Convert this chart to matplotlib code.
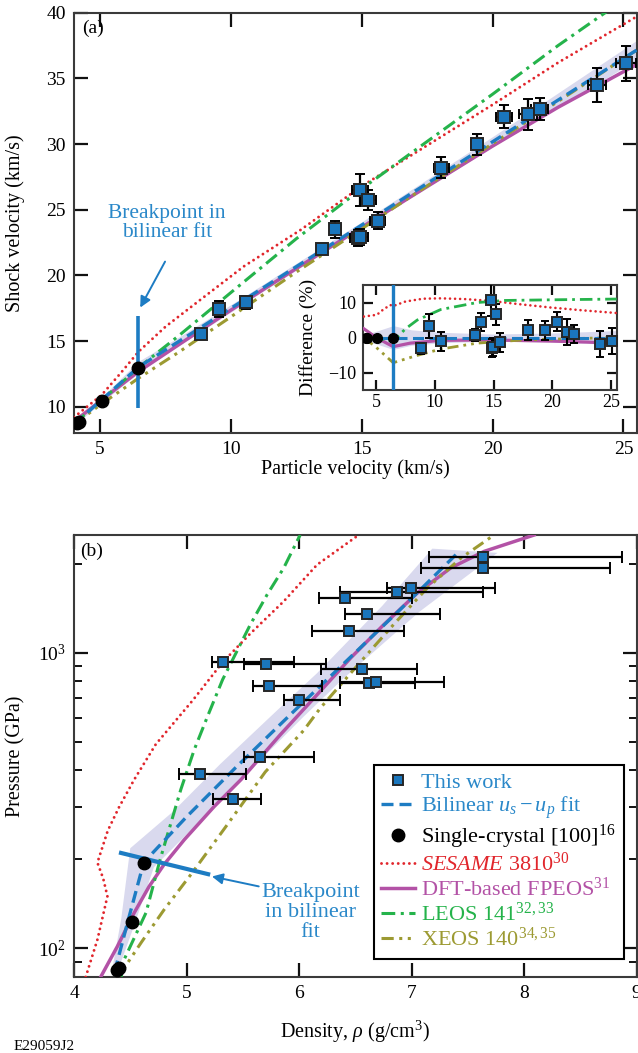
import numpy as np
import matplotlib
matplotlib.use('Agg')
import matplotlib.pyplot as plt
from matplotlib.lines import Line2D
from matplotlib.ticker import LogLocator, NullFormatter

plt.rcParams['font.family'] = ['Liberation Serif', 'DejaVu Serif']
plt.rcParams['mathtext.fontset'] = 'custom'
plt.rcParams['mathtext.rm'] = 'Liberation Serif'
plt.rcParams['mathtext.it'] = 'Liberation Serif:italic'
plt.rcParams['mathtext.bf'] = 'Liberation Serif:bold'

# ---------------- Panel (a) data: us vs up ----------------
up_work = [13.48, 13.99, 14.92, 15.25, 14.84, 14.94, 15.60, 18.03, 19.40, 20.44, 21.35, 21.80, 23.99, 25.11, 8.86, 9.55, 10.58]
us_work = [22.00, 23.50, 26.50, 25.74, 22.84, 22.90, 24.16, 28.20, 29.98, 32.08, 32.28, 32.67, 34.52, 36.14, 15.50, 17.43, 17.94]
up_err = [0.20, 0.22, 0.30, 0.28, 0.30, 0.30, 0.30, 0.29, 0.22, 0.30, 0.35, 0.33, 0.36, 0.38, 0.15, 0.20, 0.20]
us_err = [0.30, 0.63, 1.20, 0.76, 0.60, 0.60, 0.63, 0.79, 0.80, 0.89, 1.18, 0.83, 1.30, 1.35, 0.30, 0.63, 0.50]

up_sc = [4.13, 4.20, 5.06, 6.46]
us_sc = [8.75, 8.80, 10.43, 12.96]

up_fit = [4.0, 6.45, 25.5]
us_fit = [8.65, 13.0, 37.15]

up_band = [4.0, 5.0, 6.45, 8.0, 10.5, 15.0, 20.0, 25.5]
us_band_lo = [8.58, 10.24, 12.56, 14.64, 17.86, 23.60, 29.79, 36.41]
us_band_hi = [8.72, 10.62, 13.44, 15.30, 18.40, 24.08, 30.57, 37.89]

up_sesame = [4.0, 5.06, 5.8, 6.47, 7.5, 8.8, 10.5, 12.65, 15.0, 17.5, 20.0, 22.5, 25.5]
us_sesame = [9.2, 10.9, 12.6, 14.2, 16.1, 18.1, 20.7, 23.45, 26.8, 29.9, 33.0, 36.2, 39.7]

up_fpeos = [4.0, 5.0, 6.45, 8.0, 10.0, 12.5, 15.0, 17.5, 20.0, 22.5, 25.5]
us_fpeos = [8.87, 10.43, 12.66, 14.72, 17.36, 20.53, 23.67, 26.77, 29.85, 32.80, 36.05]

up_leos = [4.0, 5.0, 6.45, 8.0, 10.0, 12.5, 15.0, 17.5, 20.0, 22.5, 24.3, 25.5]
us_leos = [8.7, 10.4, 12.95, 15.4, 18.7, 22.8, 26.6, 30.2, 33.8, 37.5, 40.0, 41.7]

up_xeos = [4.0, 5.0, 6.45, 8.0, 10.0, 12.5, 15.0, 17.5, 20.0, 22.5, 25.5]
us_xeos = [8.65, 10.14, 12.15, 14.15, 16.85, 20.26, 23.55, 26.82, 30.03, 33.25, 37.15]

# ---------------- Inset data: difference (%) ----------------
up_diff = [8.84, 9.46, 10.54, 13.44, 13.92, 14.80, 15.20, 14.83, 14.93, 15.57, 17.90, 19.35, 20.40, 21.26, 21.82, 24.04, 25.10]
diff_work = [-3.06, 3.3, -1.1, 0.7, 4.5, 10.7, 6.7, -3.05, -2.8, -1.4, 2.2, 2.1, 4.5, 1.6, 0.94, -1.9, -1.1]
diff_err = [1.6, 3.5, 2.8, 1.6, 2.6, 4.5, 3.0, 2.6, 2.6, 2.7, 2.8, 2.7, 2.7, 3.6, 2.6, 3.7, 3.7]

up_diff_sc = [4.13, 4.20, 5.06, 6.46]
diff_sc = [0.0, 0.0, 0.0, 0.0]

up_dband = [3.95, 5.0, 6.45, 8.0, 10.5, 15.0, 20.0, 25.5]
dband_hi = [0.8, 1.8, 3.4, 2.2, 1.5, 1.0, 1.3, 2.0]
dband_lo = [-0.8, -1.8, -3.4, -2.2, -1.5, -1.0, -1.3, -2.0]

up_d_sesame = [3.95, 5.06, 5.6, 6.2, 6.45, 7.5, 9.0, 10.5, 12.5, 14.7, 17.0, 19.8, 22.5, 25.5]
d_sesame = [6.0, 6.5, 8.0, 9.3, 9.0, 10.3, 11.1, 11.2, 11.0, 10.5, 9.6, 8.6, 7.8, 7.0]
up_d_leos = [3.95, 5.0, 6.45, 7.5, 8.5, 10.5, 13.6, 16.0, 20.4, 25.5]
d_leos = [0.5, -0.3, -1.0, 2.5, 5.0, 8.0, 10.0, 10.6, 10.8, 11.0]
up_d_xeos = [3.95, 5.0, 6.45, 8.5, 10.5, 13.6, 17.5, 21.8, 25.5]
d_xeos = [0.0, -2.8, -7.2, -5.1, -3.3, -1.6, -0.7, -0.3, 0.0]
up_d_fpeos = [3.95, 5.0, 6.45, 7.9, 10.5, 14.7, 19.8, 23.0, 25.5]
d_fpeos = [2.5, 0.0, -2.6, -1.6, -0.8, -0.7, -1.0, -1.3, -1.7]

# ---------------- Panel (b) data: P vs density ----------------
rho_work = [7.638, 7.638, 6.998, 6.872, 6.409, 6.600, 6.445, 5.321, 5.707, 5.731, 5.998, 5.656, 5.122, 5.413, 6.561, 6.622, 6.687]
p_work = [2112, 1928, 1659, 1600, 1527, 1355, 1184, 927, 916, 769, 694, 443.6, 390, 320.7, 878, 790, 798]
rho_lo = [7.154, 7.081, 6.781, 6.365, 6.177, 6.412, 6.116, 5.226, 5.508, 5.591, 5.870, 5.508, 4.930, 5.238, 6.195, 6.365, 6.365]
rho_hi = [8.868, 8.760, 7.739, 7.638, 7.005, 7.255, 6.933, 5.953, 6.241, 6.200, 6.365, 6.137, 5.529, 5.665, 7.052, 7.034, 7.287]

rho_sc = [4.38, 4.40, 4.519, 4.623]
p_sc = [84.5, 86.0, 123, 195]

rho_fit = [4.36, 4.474, 4.62, 5.002, 5.434, 5.918, 6.281, 6.905, 7.427]
p_fit = [83, 121.5, 195.3, 278.9, 407.6, 614.6, 832.9, 1405.8, 2206]

band_left_rho = [4.34, 4.42, 4.50, 4.88, 5.30, 5.79, 6.16, 6.74, 7.185]
band_left_p = [85, 126, 218, 290, 420, 630, 852, 1440, 2248]
band_right_rho = [4.38, 4.53, 4.71, 5.13, 5.56, 6.03, 6.39, 7.07, 7.764]
band_right_p = [82, 118, 188, 272, 398, 602, 815, 1375, 2175]

rho_sesame = [4.104, 4.208, 4.297, 4.26, 4.208, 4.30, 4.40, 4.533, 4.727, 5.057, 5.32, 5.567, 5.864, 6.161, 6.53]
p_sesame = [80, 107, 150, 172, 195, 250, 300, 371, 490, 691, 927, 1160, 1491, 1984, 2500]

rho_fpeos = [4.237, 4.386, 4.534, 4.668, 4.80, 4.98, 5.247, 5.484, 5.834, 6.161, 6.458, 6.754, 7.052, 7.348, 7.645, 8.09]
p_fpeos = [80, 101.6, 131.7, 162, 192, 233, 302, 372, 528, 721, 959, 1244, 1592, 1934, 2200, 2500]

rho_leos = [4.42, 4.43, 4.64, 4.766, 4.861, 4.95, 5.069, 5.187, 5.321, 5.567, 5.716, 5.864, 6.01]
p_leos = [80, 89, 132, 200, 265, 345, 470, 609, 811, 1244, 1570, 1934, 2500]

rho_xeos = [4.40, 4.416, 4.60, 4.80, 5.05, 5.34, 5.70, 6.04, 6.19, 6.55, 6.84, 7.14, 7.44, 7.74]
p_xeos = [80, 82.5, 105, 135, 180, 255, 395, 545, 650, 934, 1244, 1655, 2090, 2510]

# ---------------- styles ----------------
C_SQ = '#1a76bd'
C_FIT = '#1d7cc3'
C_TXT = '#2a88c9'
C_RED = '#e1262c'
C_MAG = '#b352a6'
C_GRN = '#25b34b'
C_OLV = '#9c9a32'
C_BAND = '#d9d9ee'
C_SPINE = '#3a3a3a'

LS_DOT = (0, (0.01, 1.9))
LS_DASH = (0, (3.6, 1.8))
LS_DD = (0, (4.5, 1.8, 1.0, 1.8))
LS_DDD = (0, (4.0, 1.8, 1.0, 1.8, 1.0, 1.8))


def style_axes(ax, lab=14, length=10):
    for s in ax.spines.values():
        s.set_linewidth(1.5)
        s.set_color(C_SPINE)
    ax.tick_params(which='major', direction='in', length=length, width=1.6,
                   top=True, right=True, labelsize=lab, pad=6, color='#111111')


def model_lines(ax, data, lw=2.2):
    (xs, ys), (xf, yf), (xl, yl), (xx, yx) = data
    ax.plot(xs, ys, color=C_RED, lw=lw - 0.1, ls=LS_DOT, dash_capstyle='round', zorder=3)
    ax.plot(xf, yf, color=C_MAG, lw=lw + 0.3, ls='-', zorder=3)
    ax.plot(xl, yl, color=C_GRN, lw=lw, ls=LS_DD, zorder=3)
    ax.plot(xx, yx, color=C_OLV, lw=lw, ls=LS_DDD, zorder=3)


fig = plt.figure(figsize=(6.38, 10.53), dpi=100)

# ================= Panel (a) =================
axA = fig.add_axes([0.1160, 0.5888, 0.8817, 0.3991])
axA.fill_between(up_band, us_band_lo, us_band_hi, color=C_BAND, lw=0, zorder=1)
model_lines(axA, [(up_sesame, us_sesame), (up_fpeos, us_fpeos), (up_leos, us_leos), (up_xeos, us_xeos)])
axA.plot(up_fit, us_fit, color=C_FIT, lw=2.4, ls=LS_DASH, zorder=4)
axA.errorbar(up_work, us_work, xerr=up_err, yerr=us_err, fmt='s', ms=8, mfc=C_SQ,
             mec='#262626', mew=1.4, ecolor='black', elinewidth=1.6, capsize=3.5,
             capthick=1.6, zorder=6)
axA.plot(up_sc, us_sc, 'o', color='black', ms=9, zorder=7)
axA.plot([6.45, 6.45], [9.9, 16.9], color=C_FIT, lw=2.6, zorder=5, solid_capstyle='butt')
axA.text(7.55, 24.0, 'Breakpoint in\nbilinear fit', color=C_TXT, fontsize=15.5,
         ha='center', va='center', linespacing=1.05)
axA.annotate('', xy=(6.53, 17.55), xytext=(7.48, 21.05),
             arrowprops=dict(arrowstyle='-|>', color=C_FIT, lw=1.4, mutation_scale=16,
                             shrinkA=0, shrinkB=0))
axA.text(0.014, 0.964, '(a)', transform=axA.transAxes, fontsize=14, ha='left', va='center')
axA.set_xlim(4, 25.5)
axA.set_ylim(8, 40)
axA.set_xticks([5, 10, 15, 20, 25])
axA.set_yticks([10, 15, 20, 25, 30, 35, 40])
style_axes(axA)
axA.set_xlabel('Particle velocity (km/s)', fontsize=14.5)
axA.set_ylabel('Shock velocity (km/s)', fontsize=14.5)
axA.xaxis.set_label_coords(0.5, -0.062)
axA.yaxis.set_label_coords(-0.087, 0.5)

# ================= Inset =================
axI = fig.add_axes([0.5694, 0.6296, 0.3972, 0.0997])
axI.set_facecolor('white')
axI.fill_between(up_dband, dband_lo, dband_hi, color=C_BAND, lw=0, zorder=1)
model_lines(axI, [(up_d_sesame, d_sesame), (up_d_fpeos, d_fpeos), (up_d_leos, d_leos), (up_d_xeos, d_xeos)], lw=2.0)
axI.plot([3.9, 25.5], [0, 0], color=C_FIT, lw=2.2, ls=LS_DASH, zorder=4)
axI.axvline(6.45, color=C_FIT, lw=2.4, zorder=5)
axI.errorbar(up_diff, diff_work, yerr=diff_err, fmt='s', ms=7.5, mfc=C_SQ, mec='#262626',
             mew=1.4, ecolor='black', elinewidth=1.5, capsize=3, capthick=1.5, zorder=6)
axI.plot(up_diff_sc, diff_sc, 'o', color='black', ms=7, zorder=7)
axI.set_xlim(3.9, 25.5)
axI.set_ylim(-15, 15)
axI.set_xticks([5, 10, 15, 20, 25])
axI.set_yticks([-10, 0, 10])
style_axes(axI, lab=13, length=7)
axI.tick_params(axis='x', pad=3)
axI.tick_params(axis='y', pad=5)
axI.set_ylabel('Difference (%)', fontsize=14)
axI.yaxis.set_label_coords(-0.183, 0.5)

# ================= Panel (b) =================
axB = fig.add_axes([0.1160, 0.07218, 0.8817, 0.41975])
axB.set_yscale('log')
axB.fill(band_left_rho + band_right_rho[::-1], band_left_p + band_right_p[::-1],
         color=C_BAND, lw=0, zorder=1)
model_lines(axB, [(rho_sesame, p_sesame), (rho_fpeos, p_fpeos), (rho_leos, p_leos), (rho_xeos, p_xeos)])
axB.plot(rho_fit, p_fit, color=C_FIT, lw=2.4, ls=LS_DASH, zorder=4)
xerr_b = [np.array(rho_work) - np.array(rho_lo), np.array(rho_hi) - np.array(rho_work)]
axB.errorbar(rho_work, p_work, xerr=xerr_b, fmt='s', ms=7.5, mfc=C_SQ, mec='#262626',
             mew=1.4, ecolor='black', elinewidth=1.6, capsize=4, capthick=1.6, zorder=6)
axB.plot(rho_sc, p_sc, 'o', color='black', ms=9, zorder=7)
axB.plot([4.40, 5.21], [211, 177.5], color=C_FIT, lw=3.0, zorder=5, solid_capstyle='butt')
axB.annotate('', xy=(5.226, 175), xytext=(5.642, 162),
             arrowprops=dict(arrowstyle='-|>', color=C_FIT, lw=1.4, mutation_scale=16,
                             shrinkA=0, shrinkB=0))
axB.text(6.1, 132, 'Breakpoint\nin bilinear\nfit', color=C_TXT, fontsize=16,
         ha='center', va='center', linespacing=1.05)
axB.text(0.011, 0.962, '(b)', transform=axB.transAxes, fontsize=14, ha='left', va='center')
axB.set_xlim(4, 9)
axB.set_ylim(80, 2500)
axB.set_xticks([4, 5, 6, 7, 8, 9])
axB.yaxis.set_major_locator(LogLocator(base=10))
axB.yaxis.set_minor_locator(LogLocator(base=10, subs=np.arange(2, 10)))
axB.yaxis.set_minor_formatter(NullFormatter())
style_axes(axB)
axB.tick_params(which='minor', direction='in', length=6, width=1.4, right=True, color='#111111')
axB.set_xlabel(r'Density, $\rho$ (g/cm$^3$)', fontsize=14.5)
axB.set_ylabel('Pressure (GPa)', fontsize=14.5)
axB.xaxis.set_label_coords(0.5, -0.095)
axB.yaxis.set_label_coords(-0.087, 0.5)

handles = [
    Line2D([], [], ls='none', marker='s', ms=7.5, mfc=C_SQ, mec='#262626', mew=1.4),
    Line2D([], [], color=C_FIT, lw=2.4, ls=LS_DASH),
    Line2D([], [], ls='none', marker='o', ms=9, color='black'),
    Line2D([], [], color=C_RED, lw=2.1, ls=LS_DOT, dash_capstyle='round'),
    Line2D([], [], color=C_MAG, lw=2.5),
    Line2D([], [], color=C_GRN, lw=2.2, ls=LS_DD),
    Line2D([], [], color=C_OLV, lw=2.2, ls=LS_DDD),
]
labels = ['This work', r'Bilinear $u_s - u_p$ fit', r'Single-crystal [100]$^{16}$',
          r'$\mathit{SESAME}$ 3810$^{30}$', r'DFT-based FPEOS$^{31}$',
          r'LEOS 141$^{32,33}$', r'XEOS 140$^{34,35}$']
leg = axB.legend(handles, labels, loc='lower right', bbox_to_anchor=(0.977, 0.041),
                 borderaxespad=0, fontsize=16, frameon=True, fancybox=False,
                 edgecolor='black', framealpha=1, handlelength=1.5, handletextpad=0.3,
                 labelspacing=0.08, borderpad=0.35,
                 labelcolor=[C_TXT, C_TXT, 'black', C_RED, C_MAG, C_GRN, C_OLV])
leg.get_frame().set_linewidth(1.5)
leg.set_zorder(10)

fig.text(14 / 638, 1 - 1047 / 1053, 'E29059J2', fontsize=11, ha='left', va='center')

fig.savefig('out.png', dpi=100)
